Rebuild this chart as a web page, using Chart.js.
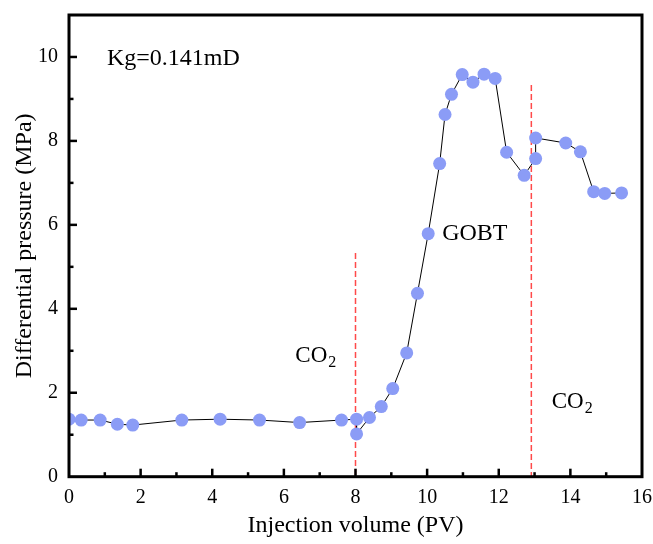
<!DOCTYPE html>
<html>
<head>
<meta charset="utf-8">
<script src="https://cdn.jsdelivr.net/npm/chart.js@4"></script>
<style>
  html, body { margin: 0; padding: 0; background: #fff; }
  #wrap { width: 653px; height: 544px; }
</style>
</head>
<body>
<div id="wrap"><canvas id="myChart" width="653" height="544"></canvas></div>
<script>
// data
var injVolume = [0, 0.34, 0.87, 1.35, 1.78, 3.15, 4.22, 5.32, 6.44, 7.61, 8.03, 8.03, 8.39, 8.72, 9.04, 9.43, 9.73, 10.03, 10.35, 10.50, 10.68, 10.98, 11.28, 11.59, 11.90, 12.22, 12.71, 13.03, 13.03, 13.87, 14.28, 14.65, 14.96, 15.43];
var pressure = [1.37, 1.35, 1.35, 1.25, 1.23, 1.35, 1.37, 1.35, 1.29, 1.35, 1.37, 1.02, 1.41, 1.67, 2.10, 2.95, 4.37, 5.79, 7.46, 8.63, 9.11, 9.58, 9.40, 9.59, 9.49, 7.73, 7.18, 7.58, 8.07, 7.95, 7.74, 6.79, 6.75, 6.76];
var switchVolume = [8.0, 12.91];
var switchTop = [5.33, 9.33];
var xTicks = [0, 2, 4, 6, 8, 10, 12, 14, 16];
var yTicks = [0, 2, 4, 6, 8, 10];

var serif = "'Liberation Serif', 'Times New Roman', serif";

var points = injVolume.map(function(v, i) {
  return { x: v, y: pressure[i] };
});

// labels inside the plot, placed in data units
var notes = [
  { x: 1.06, y: 9.80, text: "Kg=0.141mD", size: 24 },
  { x: 10.42, y: 5.65, text: "GOBT", size: 24 },
  { x: 6.32, y: 2.73, text: "CO", sub: "2", size: 23 },
  { x: 13.48, y: 1.64, text: "CO", sub: "2", size: 23 }
];

var framePlugin = {
  id: "frame",
  beforeDatasetsDraw: function(chart) {
    var ctx = chart.ctx;
    var xs = chart.scales.x, ys = chart.scales.y;
    ctx.save();
    ctx.strokeStyle = "#ff4a4a";
    ctx.lineWidth = 1.5;
    ctx.setLineDash([6, 3]);
    switchVolume.forEach(function(v, i) {
      var px = xs.getPixelForValue(v);
      ctx.beginPath();
      ctx.moveTo(px, ys.getPixelForValue(switchTop[i]));
      ctx.lineTo(px, ys.getPixelForValue(0));
      ctx.stroke();
    });
    ctx.restore();
  },
  afterDraw: function(chart) {
    var ctx = chart.ctx;
    var a = chart.chartArea;
    var xs = chart.scales.x, ys = chart.scales.y;
    ctx.save();
    ctx.strokeStyle = "#000";
    ctx.lineWidth = 3;
    ctx.strokeRect(a.left, a.top, a.right - a.left, a.bottom - a.top);

    // inward ticks, major and minor
    ctx.lineWidth = 2.5;
    for (var v = 1; v < 16; v++) {
      var px = xs.getPixelForValue(v);
      var len = v % 2 === 0 ? 8 : 4.5;
      ctx.beginPath();
      ctx.moveTo(px, a.bottom);
      ctx.lineTo(px, a.bottom - len);
      ctx.stroke();
    }
    for (var w = 1; w <= 10; w++) {
      var py = ys.getPixelForValue(w);
      var l2 = w % 2 === 0 ? 8 : 4.5;
      ctx.beginPath();
      ctx.moveTo(a.left, py);
      ctx.lineTo(a.left + l2, py);
      ctx.stroke();
    }

    // text notes
    ctx.fillStyle = "#000";
    ctx.textBaseline = "alphabetic";
    ctx.textAlign = "left";
    notes.forEach(function(n) {
      var nx = xs.getPixelForValue(n.x);
      var ny = ys.getPixelForValue(n.y);
      ctx.font = n.size + "px " + serif;
      ctx.fillText(n.text, nx, ny);
      if (n.sub) {
        var wdt = ctx.measureText(n.text).width;
        ctx.font = "16px " + serif;
        ctx.fillText(n.sub, nx + wdt + 1, ny + 5);
      }
    });
    ctx.restore();
  }
};

var ctx = document.getElementById("myChart");
var myChart = new Chart(ctx, {
  type: "scatter",
  data: {
    datasets: [
      {
        data: points,
        showLine: true,
        borderColor: "#000",
        borderWidth: 1,
        pointRadius: 6.5,
        pointHoverRadius: 6.5,
        pointBackgroundColor: "#8b9cf6",
        pointBorderColor: "#8b9cf6",
        pointBorderWidth: 0
      }
    ]
  },
  options: {
    responsive: false,
    animation: false,
    layout: { padding: { top: 15, right: 11, left: 0, bottom: 0 } },
    plugins: {
      legend: { display: false },
      tooltip: { enabled: false }
    },
    scales: {
      x: {
        type: "linear",
        min: 0,
        max: 16,
        grid: { display: false, drawTicks: false },
        border: { display: false },
        afterBuildTicks: function(scale) {
          scale.ticks = xTicks.map(function(v) { return { value: v }; });
        },
        afterFit: function(scale) {
          scale.height = 67.3;
          scale.paddingLeft = 0;
          scale.paddingRight = 0;
        },
        ticks: {
          padding: 9,
          color: "#000",
          font: { family: serif, size: 20 }
        },
        title: {
          display: true,
          text: "Injection volume (PV)",
          color: "#000",
          font: { family: serif, size: 24 },
          padding: { top: 0, bottom: 4 }
        }
      },
      y: {
        min: 0,
        max: 11,
        grid: { display: false, drawTicks: false },
        border: { display: false },
        afterBuildTicks: function(scale) {
          scale.ticks = yTicks.map(function(v) { return { value: v }; });
        },
        afterFit: function(scale) {
          scale.width = 69;
          scale.paddingTop = 0;
          scale.paddingBottom = 0;
        },
        ticks: {
          padding: 11,
          color: "#000",
          font: { family: serif, size: 20 }
        },
        title: {
          display: true,
          text: "Differential pressure (MPa)",
          color: "#000",
          font: { family: serif, size: 24 },
          padding: { top: 10, bottom: 0 }
        }
      }
    }
  },
  plugins: [framePlugin]
});
</script>
</body>
</html>
